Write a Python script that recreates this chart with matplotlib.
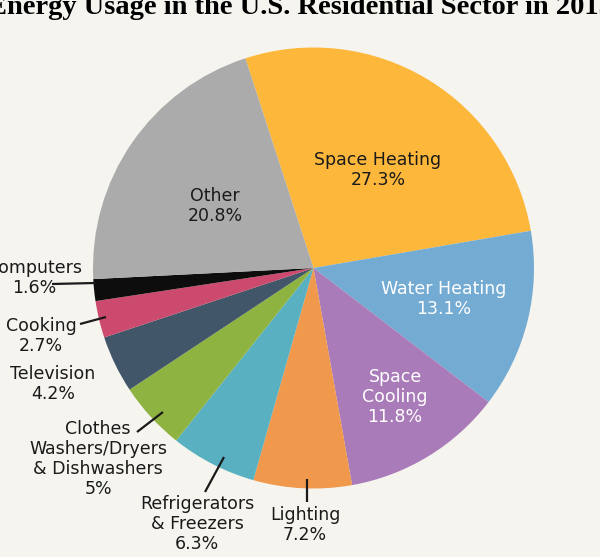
import matplotlib
matplotlib.use("Agg")
import matplotlib.pyplot as plt

categories = ["Space Heating", "Water Heating", "Space Cooling", "Lighting",
              "Refrigerators & Freezers", "Clothes Washers/Dryers & Dishwashers",
              "Television", "Cooking", "Computers", "Other"]
values = [27.3, 13.1, 11.8, 7.2, 6.3, 5.0, 4.2, 2.7, 1.6, 20.8]
value_labels = ["27.3%", "13.1%", "11.8%", "7.2%", "6.3%", "5%", "4.2%", "2.7%", "1.6%", "20.8%"]
display_names = ["Space Heating", "Water Heating", "Space\nCooling", "Lighting",
                 "Refrigerators\n& Freezers", "Clothes\nWashers/Dryers\n& Dishwashers",
                 "Television", "Cooking", "Computers", "Other"]
colors = ["#FDB83C", "#74ABD3", "#A97BB8", "#F0984C", "#58B0C1", "#8EB340",
          "#415769", "#CC4A6E", "#0D0D0D", "#ABABAB"]
text_colors = ["#1a1a1a", "white", "white", "#1a1a1a", "#1a1a1a", "#1a1a1a",
               "#1a1a1a", "#1a1a1a", "#1a1a1a", "#1a1a1a"]
title = "Energy Usage in the U.S. Residential Sector in 2015"

W, H = 600, 557
bg = "#F5F4EF"
fig = plt.figure(figsize=(W / 100, H / 100), dpi=100, facecolor=bg)
ax = fig.add_axes([0, 0, 1, 1])
ax.set_facecolor(bg)

cx, cy, R = 313.5, H - 268, 220.5
ax.pie(values, colors=colors, startangle=108, counterclock=False,
       center=(cx, cy), radius=R, frame=True,
       wedgeprops=dict(linewidth=0))
ax.set_xlim(0, W)
ax.set_ylim(0, H)
ax.set_aspect("equal")
ax.axis("off")

# label layout (image pixel coords, y from top): text centre, leader line
label_pos = [(378, 170), (444, 299), (395, 397), (305, 525), (197, 524),
             (98, 459), (53, 384), (41, 336), (34, 278), (215, 206)]
leaders = [None, None, None, ((307, 502), (307, 479)), ((205, 492), (224, 457)),
           ((137, 432), (163, 412)), None, ((80, 324), (106, 317)),
           ((52, 284), (95, 283)), None]

fs = 12.5
for name, vl, (x, y), tc, ld in zip(display_names, value_labels, label_pos, text_colors, leaders):
    ax.text(x, H - y, name + "\n" + vl, ha="center", va="center", fontsize=fs,
            color=tc, family="DejaVu Sans", linespacing=1.12)
    if ld is not None:
        (x0, y0), (x1, y1) = ld
        ax.plot([x0, x1], [H - y0, H - y1], color="#1a1a1a", lw=1.6,
                solid_capstyle="butt")

fig.text(0.5, 1 - 14 / H, title,
         ha="center", va="baseline", fontsize=20.5, fontweight="bold",
         family="Liberation Serif", color="black")

fig.savefig("out.png", dpi=100, facecolor=bg)
